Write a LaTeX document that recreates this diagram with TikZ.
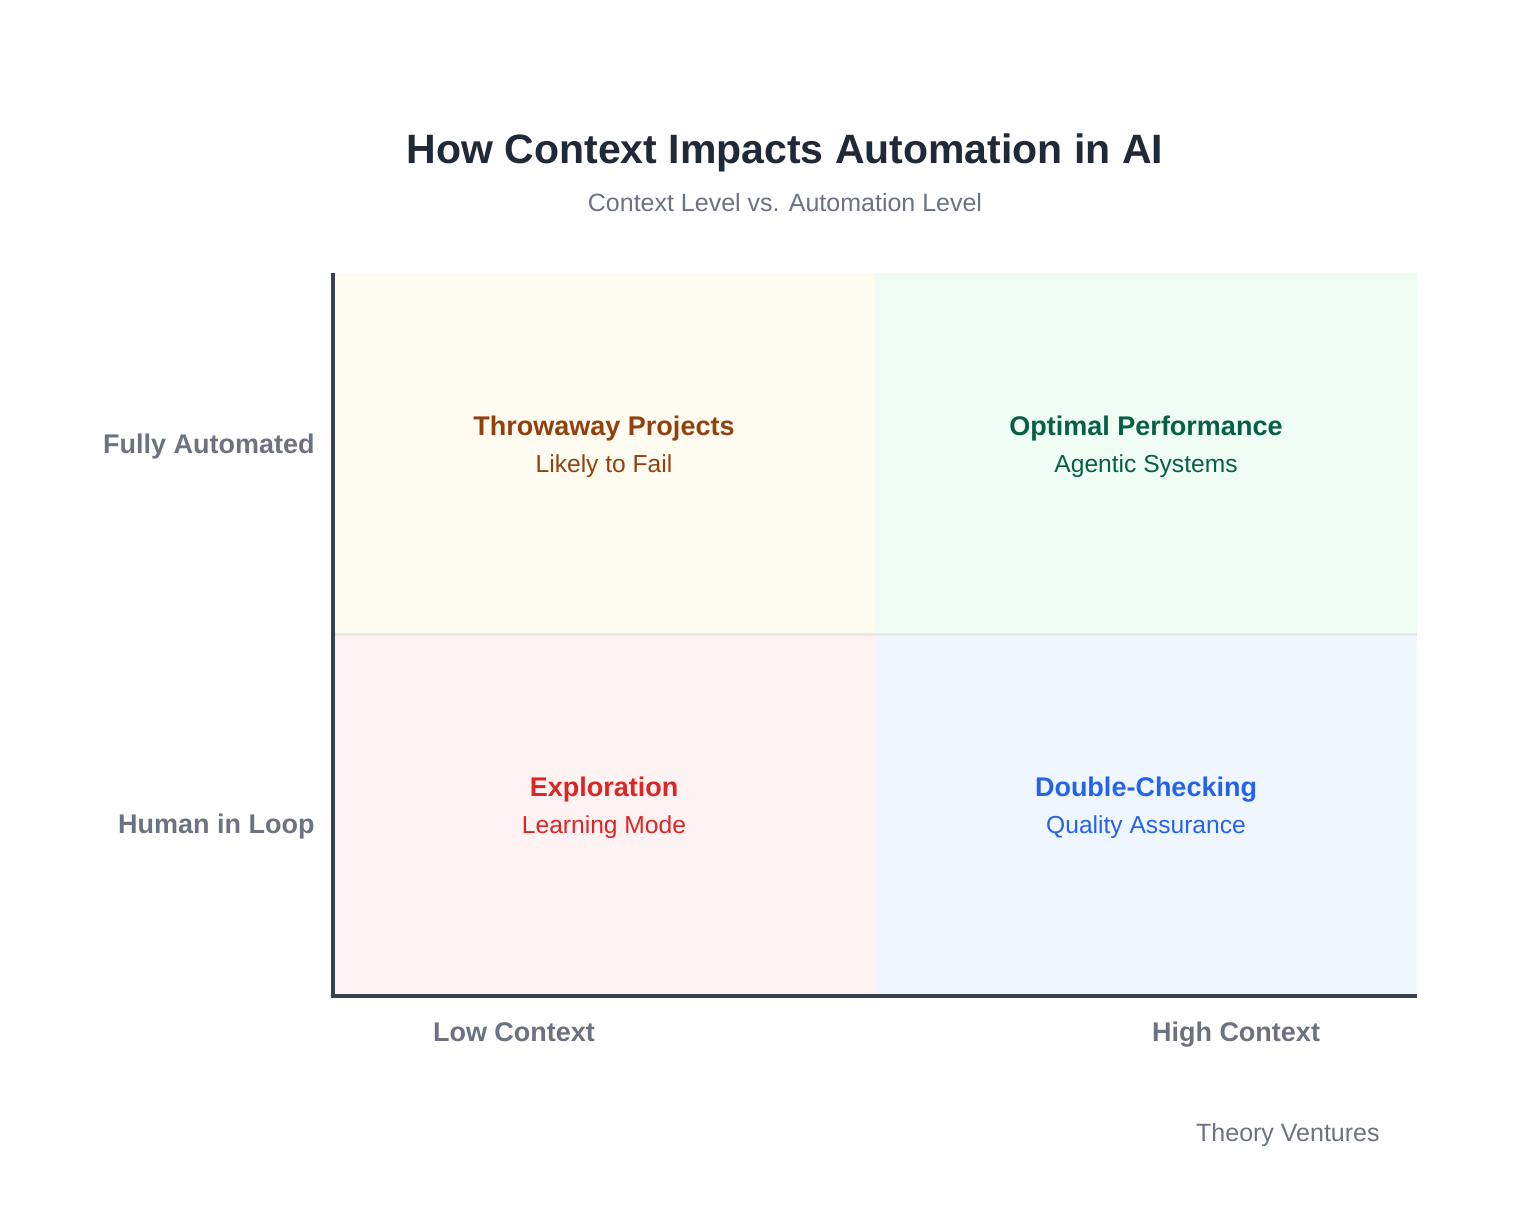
\documentclass[tikz,border=0pt]{standalone}
\usepackage{fontspec}
\setmainfont{Liberation Sans}
\usepackage{tikz}
\definecolor{titlecol}{HTML}{1F2937}
\definecolor{greytext}{HTML}{6B7280}
\definecolor{axiscol}{HTML}{374151}
\definecolor{gridcol}{HTML}{E5E7EB}
\definecolor{throwfill}{HTML}{FEFCF0}
\definecolor{optfill}{HTML}{F0FDF4}
\definecolor{explfill}{HTML}{FEF2F2}
\definecolor{checkfill}{HTML}{EFF6FF}
\definecolor{throwcol}{HTML}{92400E}
\definecolor{optcol}{HTML}{065F46}
\definecolor{explcol}{HTML}{DC2626}
\definecolor{checkcol}{HTML}{2563EB}
\tikzset{
  quadhead/.style={font=\fontsize{13.5}{16}\selectfont\bfseries,text height=1.5ex,text depth=.25ex},
  quadsub/.style={font=\fontsize{12.3}{14}\selectfont,text height=1.5ex,text depth=.25ex},
  axislabel/.style={font=\fontsize{13.5}{16}\selectfont\bfseries,text=greytext,text height=1.5ex,text depth=.25ex}
}

\begin{document}
\begin{tikzpicture}[x=.5pt,y=-.5pt,inner sep=0pt]
  \useasboundingbox (0,0) rectangle (1540,1222);
  % quadrants
  \fill[throwfill] (333,273) rectangle (875,634);
  \fill[optfill] (875,273) rectangle (1417,634);
  \fill[explfill] (333,634) rectangle (875,996);
  \fill[checkfill] (875,634) rectangle (1417,996);
  \draw[gridcol,line width=1.5pt] (333,634)--(1417,634);
  \draw[axiscol,line width=2pt] (333,273)--(333,996)--(1417,996);
  % titles
  \node[font=\fontsize{20.5}{25}\selectfont\bfseries,text=titlecol] (title) at (785,153) {How Context Impacts Automation in AI};
  \node[font=\fontsize{12.5}{14}\selectfont,text=greytext] (subtitle) at (785,203) {Context Level vs. Automation Level};
  % quadrant texts
  \node[quadhead,text=throwcol] (throw) at (604,429) {Throwaway Projects};
  \node[quadsub,text=throwcol] (throwsub) at (604,466) {Likely to Fail};
  \node[quadhead,text=optcol] (opt) at (1146,429) {Optimal Performance};
  \node[quadsub,text=optcol] (optsub) at (1146,466) {Agentic Systems};
  \node[quadhead,text=explcol] (expl) at (604,790) {Exploration};
  \node[quadsub,text=explcol] (explsub) at (604,827) {Learning Mode};
  \node[quadhead,text=checkcol] (check) at (1146,790) {Double-Checking};
  \node[quadsub,text=checkcol] (checksub) at (1146,827) {Quality Assurance};
  % axis labels
  \node[axislabel,anchor=east] (auto) at (315,447) {Fully Automated};
  \node[axislabel,anchor=east] (human) at (315,827) {Human in Loop};
  \node[axislabel] (low) at (514,1035) {Low Context};
  \node[axislabel] (high) at (1236,1035) {High Context};
  \node[font=\fontsize{12.5}{14}\selectfont,text=greytext,anchor=east] (credit) at (1380,1135) {Theory Ventures};
\end{tikzpicture}
\end{document}
